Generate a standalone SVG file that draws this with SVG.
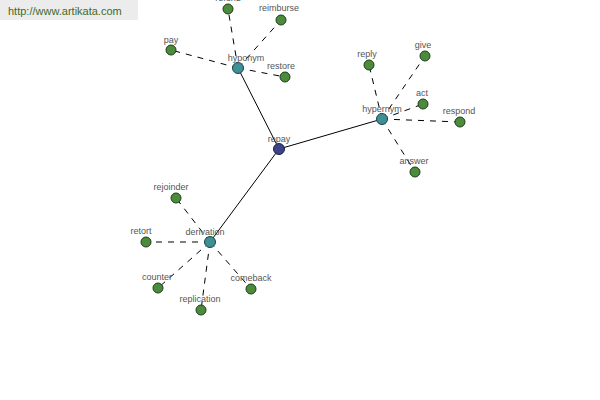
<svg xmlns="http://www.w3.org/2000/svg" width="600" height="400" viewBox="0 0 600 400">
<style>
.bg{fill:#ffffff}
.solid{stroke:#000;stroke-width:1;fill:none}
.dash{stroke:#000;stroke-width:1;fill:none;stroke-dasharray:6,6}
.leaf{fill:#4c8a3c;stroke:#1f3d18;stroke-width:1}
.hub{fill:#3f8f95;stroke:#1d4448;stroke-width:1}
.root{fill:#3c4488;stroke:#1a1f44;stroke-width:1}
.lbl{font-family:"Liberation Sans",Arial,sans-serif;font-size:9px;fill:#555;text-anchor:middle}
.wm{font-family:"Liberation Sans",Arial,sans-serif;font-size:11px;fill:#3f6a2a}
</style>
<rect class="bg" x="0" y="0" width="600" height="400"/>
<g id="watermark">
<rect x="0" y="0" width="138" height="20" fill="#ececec"/>
<text class="wm" x="8" y="15">http://www.artikata.com</text>
</g>
<g id="connectors">
<line class="solid" x1="279" y1="149" x2="238" y2="68"/>
<line class="solid" x1="279" y1="149" x2="382" y2="119"/>
<line class="solid" x1="279" y1="149" x2="210" y2="242"/>
<line class="dash" x1="238" y1="68" x2="171" y2="50"/>
<line class="dash" x1="238" y1="68" x2="228" y2="9"/>
<line class="dash" x1="238" y1="68" x2="281" y2="20"/>
<line class="dash" x1="238" y1="68" x2="285" y2="77"/>
<line class="dash" x1="382" y1="119" x2="369" y2="65"/>
<line class="dash" x1="382" y1="119" x2="425" y2="56"/>
<line class="dash" x1="382" y1="119" x2="423" y2="104"/>
<line class="dash" x1="382" y1="119" x2="460" y2="122"/>
<line class="dash" x1="382" y1="119" x2="415" y2="172"/>
<line class="dash" x1="210" y1="242" x2="176" y2="198"/>
<line class="dash" x1="210" y1="242" x2="146" y2="242"/>
<line class="dash" x1="210" y1="242" x2="158" y2="288"/>
<line class="dash" x1="210" y1="242" x2="201" y2="310"/>
<line class="dash" x1="210" y1="242" x2="251" y2="289"/>
</g>
<g id="node-repay"><circle class="root" cx="279" cy="149" r="5.5"/><text class="lbl" x="279" y="142">repay</text></g>
<g id="node-hyponym"><circle class="hub" cx="238" cy="68" r="5.5"/><text class="lbl" x="246" y="61">hyponym</text></g>
<g id="node-hypernym"><circle class="hub" cx="382" cy="119" r="5.5"/><text class="lbl" x="382" y="112">hypernym</text></g>
<g id="node-derivation"><circle class="hub" cx="210" cy="242" r="5.5"/><text class="lbl" x="205" y="235">derivation</text></g>
<g id="node-pay"><circle class="leaf" cx="171" cy="50" r="5"/><text class="lbl" x="171" y="43">pay</text></g>
<g id="node-refund"><circle class="leaf" cx="228" cy="9" r="5"/><text class="lbl" x="228" y="1">refund</text></g>
<g id="node-reimburse"><circle class="leaf" cx="281" cy="20" r="5"/><text class="lbl" x="279" y="11">reimburse</text></g>
<g id="node-restore"><circle class="leaf" cx="285" cy="77" r="5"/><text class="lbl" x="281" y="69">restore</text></g>
<g id="node-reply"><circle class="leaf" cx="369" cy="65" r="5"/><text class="lbl" x="367" y="57">reply</text></g>
<g id="node-give"><circle class="leaf" cx="425" cy="56" r="5"/><text class="lbl" x="423" y="48">give</text></g>
<g id="node-act"><circle class="leaf" cx="423" cy="104" r="5"/><text class="lbl" x="422" y="96">act</text></g>
<g id="node-respond"><circle class="leaf" cx="460" cy="122" r="5"/><text class="lbl" x="459" y="114">respond</text></g>
<g id="node-answer"><circle class="leaf" cx="415" cy="172" r="5"/><text class="lbl" x="414" y="164">answer</text></g>
<g id="node-rejoinder"><circle class="leaf" cx="176" cy="198" r="5"/><text class="lbl" x="171" y="190">rejoinder</text></g>
<g id="node-retort"><circle class="leaf" cx="146" cy="242" r="5"/><text class="lbl" x="141" y="234">retort</text></g>
<g id="node-counter"><circle class="leaf" cx="158" cy="288" r="5"/><text class="lbl" x="157" y="280">counter</text></g>
<g id="node-replication"><circle class="leaf" cx="201" cy="310" r="5"/><text class="lbl" x="200" y="302">replication</text></g>
<g id="node-comeback"><circle class="leaf" cx="251" cy="289" r="5"/><text class="lbl" x="251" y="281">comeback</text></g>
</svg>
